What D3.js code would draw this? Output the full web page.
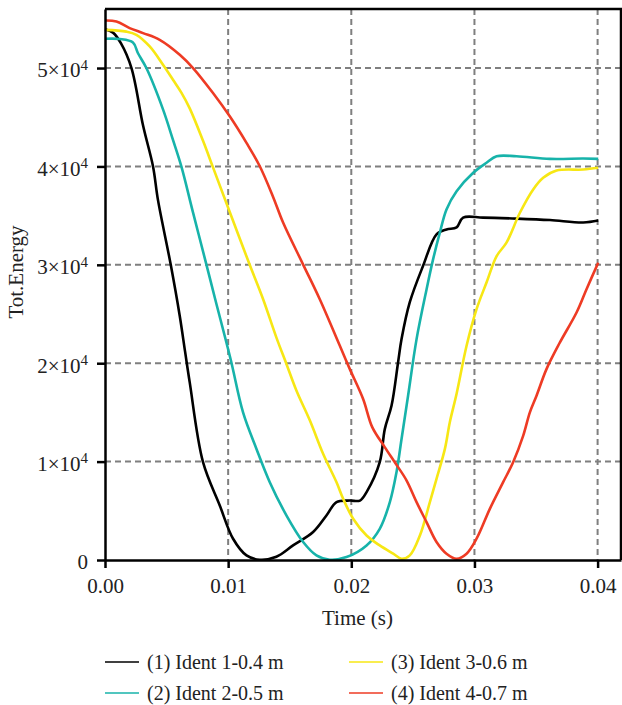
<!DOCTYPE html>
<html>
<head>
<meta charset="utf-8">
<style>
body { margin: 0; background: #fff; }
svg { font-family: "Liberation Serif", "Times New Roman", serif; }
.grid line { stroke: #7f7f7f; stroke-width: 2; stroke-dasharray: 6,4; }
</style>
<script src="https://d3js.org/d3.v7.min.js"></script>
</head>
<body>
<svg id="chart" width="622" height="705"></svg>
<script>

var width = 622;
var height = 705;
var margin = {top: 9, right: 1, bottom: 145, left: 105};

// series: time (s) and total energy
var seriesNames = ["(1) Ident 1-0.4 m", "(2) Ident 2-0.5 m", "(3) Ident 3-0.6 m", "(4) Ident 4-0.7 m"];
var seriesColors = ["#000000", "#17b3aa", "#f7e714", "#ee3b24"];

var ident1 = [
  [0, 53950], [0.00065, 53600], [0.0013, 52500], [0.00215, 50000], [0.0031, 44100],
  [0.0039, 40000], [0.0043, 36600], [0.00534, 30000], [0.00607, 24800], [0.0065, 21200],
  [0.00688, 18050], [0.00796, 9940], [0.00932, 5540], [0.0104, 2160], [0.01149, 470],
  [0.01257, 30], [0.01392, 330], [0.01527, 1480], [0.0169, 2840], [0.01798, 4520],
  [0.0188, 5880], [0.01988, 6040], [0.0207, 6040], [0.02124, 6900], [0.02231, 9940],
  [0.02272, 13300], [0.02327, 15700], [0.0238, 20100], [0.02408, 22450], [0.02475, 26200],
  [0.02583, 29900], [0.02692, 33100], [0.02773, 33600], [0.02855, 33800], [0.02908, 34800],
  [0.0307, 34800], [0.03342, 34700], [0.03613, 34550], [0.03883, 34300], [0.04005, 34500]
];

var ident2 = [
  [0, 52970], [0.0012, 52950], [0.00227, 52600], [0.00268, 51500], [0.00336, 50000],
  [0.00471, 45800], [0.00552, 42700], [0.0062, 40000], [0.00715, 35300], [0.00824, 30000],
  [0.00895, 26500], [0.0102, 20400], [0.01121, 15000], [0.0123, 11290], [0.01338, 7910],
  [0.01474, 4520], [0.01609, 1830], [0.01717, 470], [0.01825, 30], [0.01961, 300],
  [0.02124, 1480], [0.02231, 3170], [0.02313, 5880], [0.02367, 8920], [0.02408, 12300],
  [0.02461, 16700], [0.0253, 22450], [0.02611, 27500], [0.02664, 30550], [0.02719, 33270],
  [0.02773, 35630], [0.02855, 37480], [0.0299, 39350], [0.03098, 40370], [0.0318, 41030],
  [0.03342, 41030], [0.03613, 40770], [0.03883, 40800], [0.04005, 40770]
];

var ident3 = [
  [0, 53880], [0.00174, 53700], [0.00255, 53380], [0.00363, 52190], [0.00471, 50330],
  [0.00552, 48810], [0.0062, 47500], [0.00688, 45900], [0.00796, 42600], [0.00877, 39900],
  [0.01, 35800], [0.01175, 30000], [0.01284, 26500], [0.01392, 22600], [0.01474, 19900],
  [0.01555, 17200], [0.01663, 14200], [0.01771, 10800], [0.0188, 7900], [0.01934, 6220],
  [0.02015, 4190], [0.02124, 2490], [0.02231, 1480], [0.0234, 640], [0.02408, 130],
  [0.02475, 470], [0.02557, 2490], [0.02638, 5880], [0.02692, 8250], [0.0276, 11290],
  [0.028, 14000], [0.02855, 16900], [0.02936, 21770], [0.03017, 25490], [0.03098, 28200],
  [0.0318, 30890], [0.0326, 32250], [0.03369, 35290], [0.03477, 37660], [0.03558, 38840],
  [0.03667, 39580], [0.03883, 39680], [0.04005, 39860]
];

var ident4 = [
  [0, 54830], [0.00093, 54730], [0.002, 54060], [0.00309, 53550], [0.00444, 52870],
  [0.00607, 51350], [0.00715, 50000], [0.00877, 47460], [0.01013, 45090], [0.01149, 42390],
  [0.01257, 40020], [0.01365, 36900], [0.01446, 34300], [0.01608, 30050], [0.01744, 26500],
  [0.01907, 21770], [0.01988, 19400], [0.02096, 16360], [0.0217, 13500], [0.0227, 11500],
  [0.0236, 9800], [0.02448, 8100], [0.0253, 5880], [0.02611, 3850], [0.02692, 1830],
  [0.02773, 640], [0.02855, 130], [0.02936, 640], [0.03017, 2160], [0.03125, 5200],
  [0.03233, 7910], [0.03314, 9940], [0.03396, 12640], [0.0345, 15010], [0.03504, 16700],
  [0.03585, 19400], [0.03694, 22110], [0.03829, 25150], [0.0391, 27520], [0.04005, 30220]
];

var series = [ident1, ident2, ident3, ident4];

var xTicks = [0, 0.01, 0.02, 0.03, 0.04];
var yTicks = [0, 10000, 20000, 30000, 40000, 50000];

var svg = d3.select("#chart");
var plotW = width - margin.left - margin.right;
var plotH = height - margin.top - margin.bottom;

var x = d3.scaleLinear().domain([0, 0.0419]).range([0, plotW]);
var y = d3.scaleLinear().domain([0, 56000]).range([plotH, 0]);

var g = svg.append("g")
    .attr("transform", "translate(" + margin.left + "," + margin.top + ")");

// dashed grid
g.append("g").attr("class", "grid")
    .selectAll("line").data(xTicks.slice(1)).enter().append("line")
    .attr("x1", function(d) { return x(d); }).attr("x2", function(d) { return x(d); })
    .attr("y1", 0).attr("y2", plotH);
g.append("g").attr("class", "grid")
    .selectAll("line").data(yTicks.slice(1)).enter().append("line")
    .attr("x1", 0).attr("x2", plotW)
    .attr("y1", function(d) { return y(d); }).attr("y2", function(d) { return y(d); });

// top and right edge of the frame
g.append("path")
    .attr("d", "M0,0H" + plotW + "V" + plotH)
    .attr("fill", "none").attr("stroke", "#000").attr("stroke-width", 2.5);

// curves
var line = d3.line()
    .x(function(d) { return x(d[0]); })
    .y(function(d) { return y(d[1]); })
    .curve(d3.curveCatmullRom.alpha(0.5));

g.selectAll(".curve").data(series).enter().append("path")
    .attr("class", "curve")
    .attr("d", line)
    .attr("fill", "none")
    .attr("stroke", function(d, i) { return seriesColors[i]; })
    .attr("stroke-width", 2.6)
    .attr("stroke-linejoin", "round");

// axes
var xAxis = g.append("g")
    .attr("transform", "translate(0," + plotH + ")")
    .call(d3.axisBottom(x).tickValues(xTicks).tickFormat(d3.format(".2f")).tickSize(8).tickSizeOuter(0).tickPadding(10));

var yAxis = g.append("g")
    .call(d3.axisLeft(y).tickValues(yTicks).tickFormat("").tickSize(8).tickSizeOuter(0).tickPadding(8));

[xAxis, yAxis].forEach(function(a) {
  a.attr("font-size", 21).attr("font-family", "Liberation Serif, serif");
  a.select(".domain").attr("stroke-width", 2.5);
  a.selectAll(".tick line").attr("stroke-width", 2.5);
  a.selectAll(".tick text").attr("fill", "#222");
});

// y labels as a×10^4
yAxis.selectAll(".tick text").attr("x", -17).attr("dy", "0.42em").each(function(d) {
  var t = d3.select(this);
  if (d === 0) { t.text("0"); return; }
  t.append("tspan").text((d / 10000) + "×10");
  t.append("tspan").attr("dy", "-0.5em").attr("font-size", 15).text("4");
});

// axis titles
svg.append("text")
    .attr("x", margin.left + x(0.0205))
    .attr("y", 625)
    .attr("text-anchor", "middle")
    .attr("font-size", 21).attr("fill", "#222")
    .text("Time (s)");

svg.append("text")
    .attr("transform", "translate(23," + 272 + ") rotate(-90)")
    .attr("text-anchor", "middle")
    .attr("font-size", 21).attr("fill", "#222")
    .text("Tot.Energy");

// legend, two columns
var legend = svg.append("g");
var legendPos = [[105, 662], [105, 693], [349, 662], [349, 693]];
seriesNames.forEach(function(name, i) {
  var p = legendPos[i];
  legend.append("line")
      .attr("x1", p[0]).attr("x2", p[0] + 34)
      .attr("y1", p[1]).attr("y2", p[1])
      .attr("stroke", seriesColors[i]).attr("stroke-width", 1.5);
  legend.append("text")
      .attr("x", p[0] + 42).attr("y", p[1] + 7)
      .attr("font-size", 20).attr("fill", "#222")
      .text(name);
});

</script>
</body>
</html>
